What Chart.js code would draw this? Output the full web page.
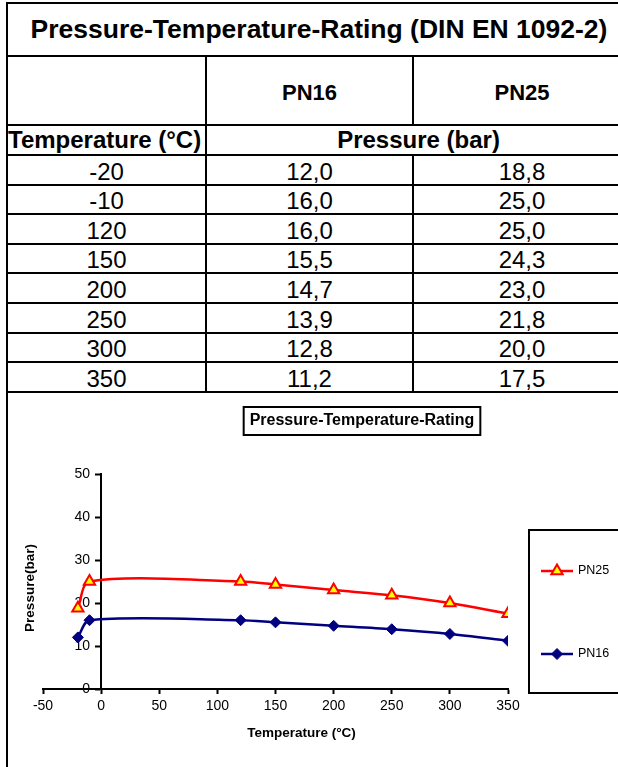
<!DOCTYPE html>
<html>
<head>
<meta charset="utf-8">
<title>Pressure-Temperature-Rating</title>
<script src="https://cdn.jsdelivr.net/npm/chart.js@4/dist/chart.umd.min.js"></script>
<style>
  body { margin: 0; background: #fff; overflow: hidden; width: 618px; height: 767px; position: relative; font-family: Arial, "Liberation Sans", sans-serif; }
  #tbl { position: absolute; left: 6px; top: 2px; border-collapse: collapse; table-layout: fixed; width: 624px; }
  #tbl td, #tbl th { border: 2px solid #000; padding: 0; text-align: center; font-size: 24px; color: #000; white-space: nowrap; overflow: hidden; }
  #tbl td { font-weight: normal; vertical-align: bottom; line-height: 1; }
  #tbl th { font-weight: bold; vertical-align: middle; }
  #tbl .title { font-size: 26.5px; }
  #tbl .pn { font-size: 22px; padding-top: 4px; }
  #tbl .left { text-align: left; }
  #chartBox { position: absolute; left: 6px; top: 392px; width: 710px; height: 375px; border-left: 2px solid #000; }
  #chartBox canvas { position: absolute; left: 0; top: 2px; }
</style>
</head>
<body>
<table id="tbl">
  <colgroup><col style="width:199px"><col style="width:207px"><col style="width:218px"></colgroup>
  <tr style="height:53px"><th colspan="3" class="title">Pressure-Temperature-Rating (DIN EN 1092-2)</th></tr>
  <tr style="height:69px"><th></th><th class="pn">PN16</th><th class="pn">PN25</th></tr>
  <tr style="height:30px"><th class="left">Temperature (°C)</th><th colspan="2">Pressure (bar)</th></tr>
</table>
<div id="chartBox"><canvas id="pt" width="708" height="373"></canvas></div>
<script>
// values from the rating table
const temperatures = [-20, -10, 120, 150, 200, 250, 300, 350];
const pn16 = [12.0, 16.0, 16.0, 15.5, 14.7, 13.9, 12.8, 11.2];
const pn25 = [18.8, 25.0, 25.0, 24.3, 23.0, 21.8, 20.0, 17.5];
const seriesNames = ['PN16', 'PN25'];
const xTicks = [-50, 0, 50, 100, 150, 200, 250, 300, 350];
const yTicks = [0, 10, 20, 30, 40, 50];

const chartTitle = 'Pressure-Temperature-Rating';
const xTitle = 'Temperature (°C)';
const yTitle = 'Pressure(bar)';

const fmt = v => v.toFixed(1).replace('.', ',');

// fill the table rows
const tbl = document.getElementById('tbl');
temperatures.forEach((t, i) => {
    let tr = document.createElement('tr');
    tr.style.height = '29.6px';
    [String(t), fmt(pn16[i]), fmt(pn25[i])].forEach(txt => {
        let td = document.createElement('td');
        td.textContent = txt;
        tr.appendChild(td);
    });
    tbl.appendChild(tr);
});

Chart.defaults.font.family = 'Arial, "Liberation Sans", sans-serif';
Chart.defaults.color = '#000';

// boxed title, axis titles and the boxed legend
const chartDecor = {
    id: 'chartDecor',
    afterDraw(chart) {
        const ctx = chart.ctx;
        const area = chart.chartArea;
        ctx.save();
        ctx.fillStyle = '#000';
        ctx.strokeStyle = '#000';
        ctx.lineWidth = 2;
        ctx.textAlign = 'center';
        ctx.textBaseline = 'middle';

        // chart title in a frame
        ctx.font = 'bold 16px Arial, "Liberation Sans", sans-serif';
        let tw = ctx.measureText(chartTitle).width;
        let cx = chart.width / 2;
        ctx.fillText(chartTitle, cx, 27);
        ctx.strokeRect(cx - tw / 2 - 6, 13, tw + 12, 28);

        // axis titles
        ctx.font = 'bold 13.5px Arial, "Liberation Sans", sans-serif';
        ctx.fillText(xTitle, (area.left + area.right) / 2 + 26, 339);
        ctx.save();
        ctx.translate(22, 194);
        ctx.rotate(-Math.PI / 2);
        ctx.fillText(yTitle, 0, 0);
        ctx.restore();

        // legend box, PN25 on top
        ctx.strokeRect(521, 136, 220, 163);
        [1, 0].forEach((di, k) => {
            const ds = chart.data.datasets[di];
            const y = k === 0 ? 177 : 260;
            ctx.beginPath();
            ctx.strokeStyle = ds.borderColor;
            ctx.lineWidth = ds.borderWidth;
            ctx.moveTo(533, y);
            ctx.lineTo(565, y);
            ctx.stroke();
            ctx.fillStyle = ds.pointBackgroundColor;
            ctx.strokeStyle = ds.pointBorderColor;
            ctx.lineWidth = ds.pointBorderWidth;
            Chart.helpers.drawPoint(ctx, {
                pointStyle: ds.pointStyle,
                radius: ds.pointRadius,
                borderWidth: ds.pointBorderWidth,
                rotation: 0
            }, 549, y);
            ctx.fillStyle = '#000';
            ctx.font = '12.5px Arial, "Liberation Sans", sans-serif';
            ctx.textAlign = 'left';
            ctx.fillText(ds.label, 570, y);
        });
        ctx.restore();
    }
};

const tickMarks = { drawOnChartArea: false, drawTicks: true, tickLength: 5, tickWidth: 2, tickColor: '#000' };
const tickFont = { size: 14 };

const ptChart = new Chart(document.getElementById('pt'), {
    type: 'line',
    data: {
        datasets: [{
            label: seriesNames[0],
            data: temperatures.map((t, i) => ({ x: t, y: pn16[i] })),
            borderColor: '#000080',
            borderWidth: 2.5,
            pointStyle: 'rectRot',
            pointRadius: 5.5,
            pointBackgroundColor: '#000080',
            pointBorderColor: '#000080',
            pointBorderWidth: 1,
            tension: 0.3
        }, {
            label: seriesNames[1],
            data: temperatures.map((t, i) => ({ x: t, y: pn25[i] })),
            borderColor: '#FF0000',
            borderWidth: 2.5,
            pointStyle: 'triangle',
            pointRadius: 6.5,
            pointBackgroundColor: '#FFFF00',
            pointBorderColor: '#FF0000',
            pointBorderWidth: 2,
            tension: 0.3
        }]
    },
    options: {
        responsive: false,
        animation: false,
        layout: { padding: { left: 35, right: 208, top: 80, bottom: 0 } },
        plugins: {
            legend: { display: false },
            tooltip: { enabled: false }
        },
        scales: {
            x: {
                type: 'linear', min: -50, max: 350,
                afterBuildTicks: s => { s.ticks = xTicks.map(v => ({ value: v })); },
                afterFit: s => { s.height = 78; },
                ticks: { font: tickFont, padding: 4, maxRotation: 0, autoSkip: false },
                grid: tickMarks,
                border: { color: '#000', width: 2 }
            },
            // axis line and tick marks crossing x = 0
            y: {
                type: 'linear', min: 0, max: 50,
                position: { x: 0 },
                afterBuildTicks: s => { s.ticks = yTicks.map(v => ({ value: v })); },
                ticks: { display: false },
                grid: tickMarks,
                border: { color: '#000', width: 2 }
            },
            // labels of the same axis, set off to the left of the line
            yLabels: {
                type: 'linear', min: 0, max: 50,
                position: { x: -9.5 },
                afterBuildTicks: s => { s.ticks = yTicks.map(v => ({ value: v })); },
                ticks: { font: tickFont, autoSkip: false },
                grid: { display: false },
                border: { display: false }
            }
        }
    },
    plugins: [chartDecor]
});
</script>
</body>
</html>
